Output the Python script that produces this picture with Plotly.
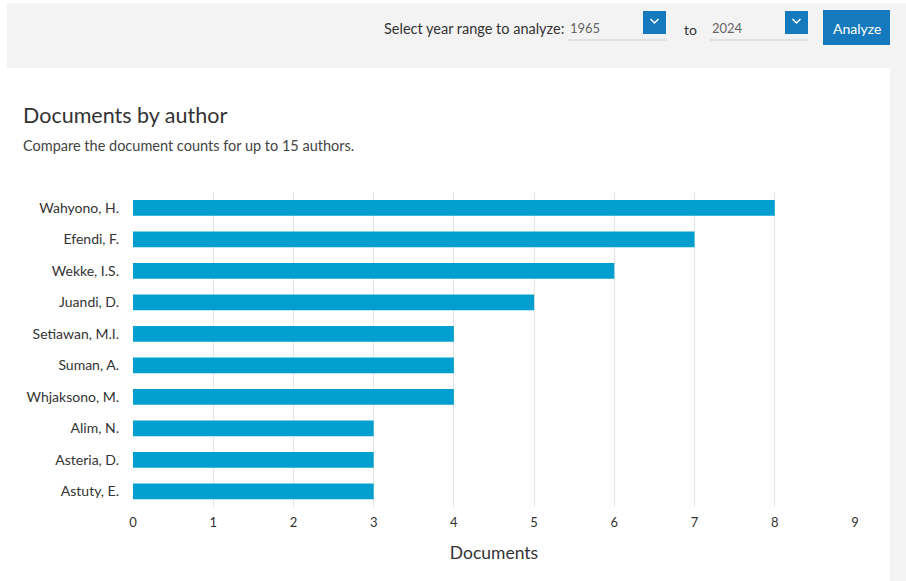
import plotly.graph_objects as go

# Authors and their document counts
authors = ["Wahyono, H.", "Efendi, F.", "Wekke, I.S.", "Juandi, D.", "Setiawan, M.I.",
           "Suman, A.", "Whjaksono, M.", "Alim, N.", "Asteria, D.", "Astuty, E."]
documents = [8, 7, 6, 5, 4, 4, 4, 3, 3, 3]
x_ticks = list(range(0, 10))

W, H = 906, 581
L, R, T, B = 133, 51, 192, 74
PW, PH = W - L - R, H - T - B
FONT = "Lato, 'Open Sans', sans-serif"


def px(x):
    return (x - L) / PW


def py(y):
    return (H - B - y) / PH


fig = go.Figure(go.Bar(
    y=authors, x=documents, orientation="h",
    marker=dict(color="#009fcf", line=dict(width=0)),
    width=0.5, hoverinfo="x+y",
))

shapes = []
# page panels
shapes.append(dict(type="rect", xref="paper", yref="paper", layer="below",
                   x0=px(7), x1=px(W), y0=py(68), y1=py(3),
                   fillcolor="#f3f3f3", line=dict(width=0)))
shapes.append(dict(type="rect", xref="paper", yref="paper", layer="below",
                   x0=px(890), x1=px(W), y0=py(H), y1=py(68),
                   fillcolor="#f3f3f3", line=dict(width=0)))
# year inputs underline
for x0, x1 in [(568, 667), (710, 808)]:
    shapes.append(dict(type="line", xref="paper", yref="paper",
                       x0=px(x0), x1=px(x1), y0=py(40), y1=py(40),
                       line=dict(color="#cfcfcf", width=1)))
# dropdown buttons with chevrons
for x0 in [643, 785]:
    shapes.append(dict(type="rect", xref="paper", yref="paper",
                       x0=px(x0), x1=px(x0 + 23), y0=py(34), y1=py(11),
                       fillcolor="#1479bd", line=dict(width=0)))
    cx, cy = x0 + 11.5, 21
    path = (f"M {px(cx - 4)} {py(cy - 2)} L {px(cx)} {py(cy + 2)} "
            f"L {px(cx + 4)} {py(cy - 2)}")
    shapes.append(dict(type="path", xref="paper", yref="paper", path=path,
                       line=dict(color="white", width=1.5)))
# analyze button
shapes.append(dict(type="rect", xref="paper", yref="paper",
                   x0=px(823), x1=px(890), y0=py(45), y1=py(10),
                   fillcolor="#1479bd", line=dict(width=0)))

annotations = []


def text(x, y, s, size, color="#333333", xanchor="left", family=FONT):
    annotations.append(dict(xref="paper", yref="paper", x=px(x), y=py(y),
                            text=s, showarrow=False, xanchor=xanchor,
                            yanchor="middle",
                            font=dict(family=family, size=size, color=color)))


text(382, 28, "Select year range to analyze:", 14.5)
text(568, 28, "1965", 13, color="#666666")
text(682, 29, "to", 14)
text(710, 28, "2024", 13, color="#666666")
text(856.5, 28, "Analyze", 14, color="white", xanchor="center")
text(21, 115, "Documents by author", 21.5)
text(21, 145, "Compare the document counts for up to 15 authors.", 14.5, color="#444444")

fig.update_layout(
    width=W, height=H,
    margin=dict(l=L, r=R, t=T, b=B, pad=0),
    paper_bgcolor="white", plot_bgcolor="white",
    showlegend=False,
    font=dict(family=FONT, size=14, color="#333333"),
    shapes=shapes, annotations=annotations,
    bargap=0.5,
)
fig.update_xaxes(
    range=[0, 9], tickvals=x_ticks, showgrid=True, gridcolor="#e4e4e4",
    gridwidth=1, zeroline=False, showline=False, ticks="",
    ticklabelstandoff=6,
    tickfont=dict(size=13, color="#333333"),
    title=dict(text="Documents", font=dict(size=17.5, color="#333333"), standoff=17),
)
fig.update_yaxes(
    categoryorder="array", categoryarray=authors[::-1],
    showgrid=False, zeroline=False, showline=False, ticks="",
    ticklabelstandoff=13, tickfont=dict(size=14, color="#333333"),
)

fig.write_html("out.html")
